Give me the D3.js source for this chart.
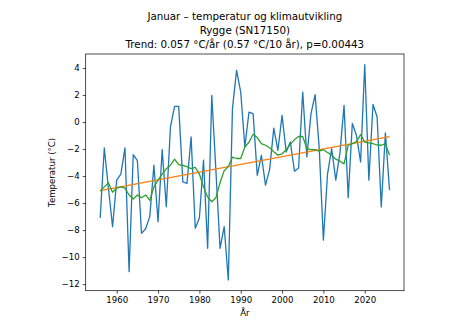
<!DOCTYPE html>
<html>
<head>
<meta charset="utf-8">
<script src="https://cdn.jsdelivr.net/npm/d3@7"></script>
<style>
  body { margin: 0; background: #fff; }
  svg { display: block; font-family: "DejaVu Sans", sans-serif; }
</style>
</head>
<body>
<svg id="chart" width="473" height="328"></svg>
<script>
// January mean temperature, Rygge (SN17150)
const years = d3.range(1956, 2027)

const temps = [
  -7.1, -1.92, -4.9, -7.75, -4.3, -3.85, -1.92, -11.08, -2.41, -2.85,
  -8.24, -7.9, -7.0, -3.2, -7.38, -2.04, -6.27, -0.37, 1.16, 1.16,
  -4.43, -4.55, -1.1, -7.87, -7.1, -2.83, -9.35, 1.97, -3.6, -9.35,
  -7.75, -11.69, 0.99, 3.82, 2.22, -1.85, 0.74, 0.62, -3.94, -2.46,
  -4.67, -3.5, -0.45, -2.09, 0.49, -2.22, -1.48, -3.64, -3.4, 2.22,
  -2.58, 0.62, 2.02, -1.97, -8.74, -3.85, -1.97, -4.3, -2.3, 1.23,
  -5.6, -0.1, -1.0, -2.95, 4.24, -4.3, 1.3, 0.37, -6.28, -0.8,
  -5.04
]

const smooth = [
  -5.1, -4.8, -4.5, -5.2, -4.9, -4.8, -4.9, -5.4, -5.7, -5.4,
  -5.6, -5.4, -5.8, -4.8, -4.3, -3.85, -3.45, -3.2, -2.75, -3.15,
  -3.2, -3.3, -3.45, -3.35, -3.85, -4.8, -5.55, -5.9, -5.6, -4.5,
  -3.6, -3.3, -2.6, -2.7, -2.7, -1.85, -1.5, -0.9, -1.15, -1.6,
  -1.72, -1.9, -2.2, -2.45, -2.35, -2.05, -1.65, -1.3, -1.07, -1.07,
  -1.97, -2.05, -2.05, -2.15, -2.05, -2.25, -2.45, -2.75, -2.9, -3.1,
  -1.72, -1.6, -1.45, -0.93, -1.48, -1.55, -1.6, -1.7, -1.72, -1.6,
  -2.46
]

const trendYears = [1956, 2026]
const trendValues = [-5.07, -1.08]

const xTicks = [1960, 1970, 1980, 1990, 2000, 2010, 2020]
const yTicks = [-12, -10, -8, -6, -4, -2, 0, 2, 4]

const titleLines = [
  "Januar – temperatur og klimautvikling",
  "Rygge (SN17150)",
  "Trend: 0.057 °C/år (0.57 °C/10 år), p=0.00443"
]

const margin = { left: 85.7, right: 404, top: 54, bottom: 290.7 }
const svg = d3.select("#chart")

// matplotlib-like 5% margins
let pad = (lo, hi) => [lo - (hi - lo) * 0.05, hi + (hi - lo) * 0.05]
const x = d3.scaleLinear()
  .domain(pad(d3.min(years), d3.max(years)))
  .range([margin.left, margin.right])
const y = d3.scaleLinear()
  .domain(pad(d3.min(temps), d3.max(temps)))
  .range([margin.bottom, margin.top])

let line = d3.line().x(d => x(d[0])).y(d => y(d[1]))

svg.append("path")
  .datum(d3.zip(years, temps))
  .attr("d", line)
  .attr("fill", "none")
  .attr("stroke", "#1f77b4")
  .attr("stroke-width", 1.3)
  .attr("stroke-linejoin", "round")

svg.append("path")
  .datum(d3.zip(trendYears, trendValues))
  .attr("d", line)
  .attr("fill", "none")
  .attr("stroke", "#ff7f0e")
  .attr("stroke-width", 1.3)

svg.append("path")
  .datum(d3.zip(years, smooth))
  .attr("d", line)
  .attr("fill", "none")
  .attr("stroke", "#2ca02c")
  .attr("stroke-width", 1.3)
  .attr("stroke-linejoin", "round")

// axes
let styleAxis = g => {
  g.select(".domain").remove()
  g.selectAll(".tick line").attr("stroke", "#000").attr("stroke-width", 0.7)
  g.selectAll(".tick text").attr("fill", "#000").style("font-size", "8.6px")
    .style("font-family", "DejaVu Sans")
}

svg.append("g")
  .attr("transform", `translate(0,${margin.bottom})`)
  .call(d3.axisBottom(x).tickValues(xTicks).tickFormat(d3.format("d"))
    .tickSize(3).tickPadding(3))
  .call(styleAxis)

svg.append("g")
  .attr("transform", `translate(${margin.left},0)`)
  .call(d3.axisLeft(y).tickValues(yTicks).tickSize(3).tickPadding(3))
  .call(styleAxis)

// frame
svg.append("rect")
  .attr("x", margin.left).attr("y", margin.top)
  .attr("width", margin.right - margin.left)
  .attr("height", margin.bottom - margin.top)
  .attr("fill", "none")
  .attr("stroke", "#000")
  .attr("stroke-width", 0.7)

// labels
let cx = (margin.left + margin.right) / 2
svg.append("text")
  .attr("x", cx).attr("y", 316)
  .attr("text-anchor", "middle")
  .style("font-size", "8.6px")
  .text("År")

svg.append("text")
  .attr("transform", `translate(55,${(margin.top + margin.bottom) / 2}) rotate(-90)`)
  .attr("text-anchor", "middle")
  .style("font-size", "8.6px")
  .text("Temperatur (°C)")

svg.append("g").selectAll("text")
  .data(titleLines)
  .join("text")
  .attr("x", cx)
  .attr("y", (d, i) => 19.8 + i * 14.2)
  .attr("text-anchor", "middle")
  .style("font-size", "10.3px")
  .text(d => d)
</script>
</body>
</html>
